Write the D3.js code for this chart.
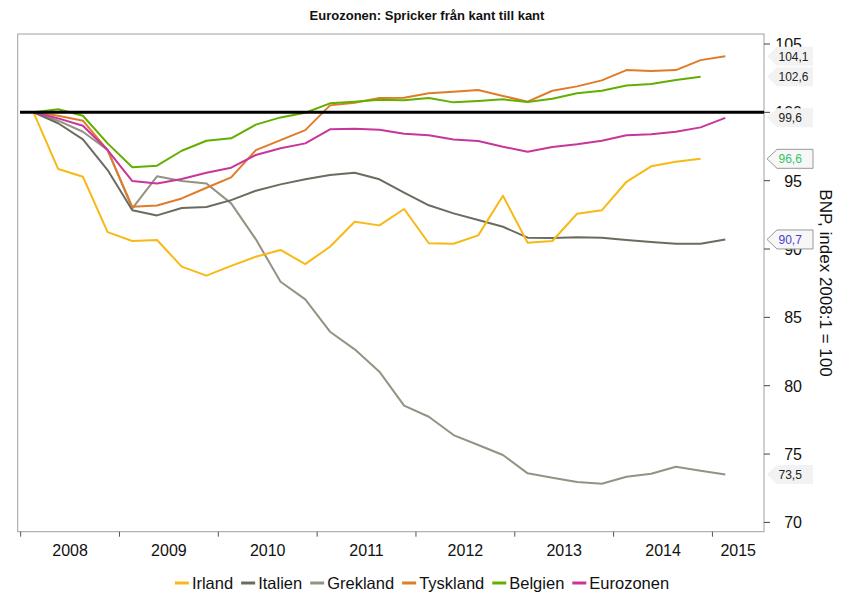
<!DOCTYPE html>
<html><head><meta charset="utf-8">
<script src="https://cdn.jsdelivr.net/npm/d3@7"></script>
<style>body{margin:0;background:#fff;} text{font-family:"Liberation Sans",Arial,sans-serif;}</style>
</head><body><svg id="c" width="850" height="593"></svg>
<script>
const title = "Eurozonen: Spricker från kant till kant";
const yTitle = "BNP, index 2008:1 = 100";
const years = ["2008","2009","2010","2011","2012","2013","2014","2015"];
const quarters = ["2008:1","2008:2","2008:3","2008:4","2009:1","2009:2","2009:3","2009:4",
 "2010:1","2010:2","2010:3","2010:4","2011:1","2011:2","2011:3","2011:4",
 "2012:1","2012:2","2012:3","2012:4","2013:1","2013:2","2013:3","2013:4",
 "2014:1","2014:2","2014:3","2014:4","2015:1"];
const yTicks = [70,75,80,85,90,95,100,105];
const names = ["Irland","Italien","Grekland","Tyskland","Belgien","Eurozonen"];
const colors = ["#f9b915","#6b6b60","#939383","#e07b27","#62af00","#c8359b"];
const irland = [100,95.85,95.29,91.24,90.59,90.66,88.71,88.05,88.77,89.44,89.93,88.90,90.17,92.0,91.73,92.93,90.42,90.39,91.0,93.9,90.46,90.59,92.58,92.83,94.92,96.05,96.39,96.6];
const italien = [100,99.2,98.02,95.78,92.83,92.46,93.0,93.07,93.58,94.27,94.73,95.1,95.41,95.58,95.1,94.12,93.2,92.61,92.12,91.63,90.83,90.8,90.86,90.83,90.66,90.51,90.39,90.39,90.7];
const grekland = [100,99.39,98.58,97.24,92.98,95.32,94.97,94.8,93.34,90.71,87.61,86.32,83.95,82.66,81.03,78.54,77.73,76.39,75.66,74.93,73.59,73.27,72.95,72.83,73.34,73.56,74.07,73.78,73.5];
const tyskland = [100,99.75,99.39,97.24,93.09,93.19,93.7,94.48,95.24,97.24,97.97,98.7,100.51,100.7,101.05,101.07,101.39,101.51,101.63,101.2,100.78,101.58,101.9,102.34,103.09,103.02,103.09,103.82,104.1];
const belgien = [100,100.22,99.75,97.73,95.98,96.1,97.19,97.92,98.1,99.1,99.63,99.97,100.66,100.78,100.92,100.88,101.05,100.73,100.83,100.95,100.75,100.99,101.39,101.58,101.97,102.07,102.36,102.6];
const eurozonen = [100,99.56,99.02,97.24,94.97,94.8,95.12,95.58,95.95,96.88,97.37,97.73,98.76,98.8,98.73,98.43,98.32,98.02,97.9,97.48,97.12,97.46,97.66,97.92,98.32,98.39,98.58,98.9,99.6];
const seriesValues = [irland,italien,grekland,tyskland,belgien,eurozonen];
const baseline = 100;
// end-label styling per series (text colour, bordered)
const labelStyle = [
 {fill:"#f7f7f7", stroke:"#999", text:"#33c46a"},
 {fill:"#f7f7f7", stroke:"#999", text:"#4b3ad6"},
 {fill:"#f2f2f2", stroke:"none", text:"#222"},
 {fill:"#f2f2f2", stroke:"none", text:"#222"},
 {fill:"#f2f2f2", stroke:"none", text:"#222"},
 {fill:"#f2f2f2", stroke:"none", text:"#222"}];

const svg = d3.select("#c");
const F = {l:17.7, r:764, t:34, b:531.7};
const x = d3.scaleLinear().domain([0,28]).range([33.5,725.3]);
const y = d3.scaleLinear().domain([70,105]).range([522.4,44]);

svg.append("text").attr("x",427).attr("y",20).attr("text-anchor","middle")
  .attr("font-size","13px").attr("font-weight","bold").attr("fill","#111").text(title);

// frame
svg.append("rect").attr("x",F.l).attr("y",F.t).attr("width",F.r-F.l).attr("height",F.b-F.t)
  .attr("fill","none").attr("stroke","#a0a0a0").attr("stroke-width",1);

// x ticks & labels
const tickIdx = years.map((d,i)=>4*i-0.52);
svg.selectAll(".xt").data(tickIdx).enter().append("line")
  .attr("x1",d=>x(d)).attr("x2",d=>x(d)).attr("y1",F.b).attr("y2",F.b+5)
  .attr("stroke","#555").attr("stroke-width",1);
svg.selectAll(".xl").data(years).enter().append("text")
  .attr("x",(d,i)=>{const a=x(tickIdx[i]); const b=i<years.length-1?x(tickIdx[i+1]):F.r; return (a+b)/2;})
  .attr("y",556).attr("text-anchor","middle").attr("font-size","16px").attr("fill","#111").text(d=>d);

// y ticks & labels (right)
svg.selectAll(".yt").data(yTicks).enter().append("line")
  .attr("x1",F.r).attr("x2",F.r+6).attr("y1",d=>y(d)).attr("y2",d=>y(d))
  .attr("stroke","#444").attr("stroke-width",1);
svg.selectAll(".yl").data(yTicks).enter().append("text")
  .attr("x",802).attr("y",d=>y(d)+6).attr("text-anchor","end").attr("font-size","16px").attr("fill","#111").text(d=>d);

svg.append("text").attr("transform","translate(820,283) rotate(90)").attr("text-anchor","middle")
  .attr("font-size","17px").attr("fill","#111").text(yTitle);

// lines
const line = d3.line().x((d,i)=>x(i)).y(d=>y(d));
const order = [2,1,0,3,5,4];
order.forEach(k=>{
  svg.append("path").datum(seriesValues[k]).attr("d",line).attr("fill","none")
    .attr("stroke",colors[k]).attr("stroke-width",2).attr("stroke-linejoin","round");
});
svg.append("line").attr("x1",20).attr("x2",F.r).attr("y1",y(baseline)).attr("y2",y(baseline))
  .attr("stroke","#000").attr("stroke-width",3);

// end labels
const fmt = v=>d3.format(".1f")(v).replace(".",",");
seriesValues.forEach((vals,k)=>{
  const cy = y(vals[vals.length-1]);
  const st = labelStyle[k];
  svg.append("path").attr("d",`M767,${cy} L777,${cy-9.5} L813,${cy-9.5} L813,${cy+9.5} L777,${cy+9.5} Z`)
    .attr("fill",st.fill).attr("stroke",st.stroke).attr("stroke-width",1);
  svg.append("text").attr("x",778.5).attr("y",cy+4.5).attr("font-size","12px").attr("fill",st.text)
    .text(fmt(vals[vals.length-1]));
});

// legend
const lg = svg.append("g");
let cx = 0;
names.forEach((n,k)=>{
  lg.append("line").attr("x1",cx).attr("x2",cx+14).attr("y1",583).attr("y2",583)
    .attr("stroke",colors[k]).attr("stroke-width",3);
  const t = lg.append("text").attr("x",cx+17).attr("y",589).attr("font-size","16.5px").attr("fill","#111").text(n);
  cx += 17 + t.node().getComputedTextLength() + 8;
});
lg.attr("transform",`translate(${422 - (cx-8)/2},0)`);
</script></body></html>
